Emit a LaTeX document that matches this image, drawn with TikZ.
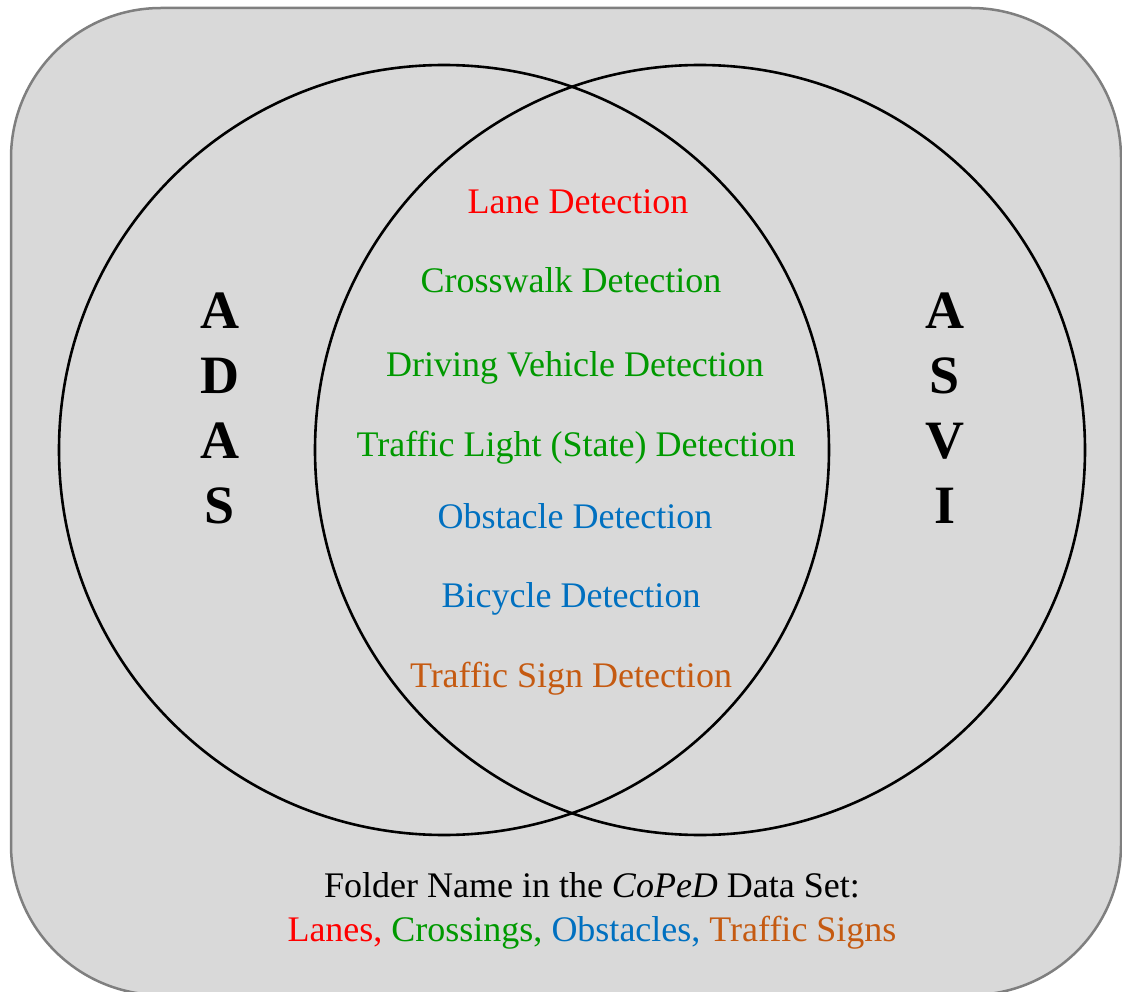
\documentclass[tikz,border=0pt]{standalone}
\usepackage{fontspec}
\setmainfont{Liberation Serif}
\definecolor{bgc}{HTML}{D9D9D9}
\definecolor{edgec}{HTML}{7F7F7F}
\definecolor{cred}{HTML}{FF0000}
\definecolor{cgreen}{HTML}{009900}
\definecolor{cblue}{HTML}{0070C0}
\definecolor{corange}{HTML}{C55A11}
\tikzset{
  item/.style={anchor=base, inner sep=0pt, font=\fontsize{36}{43}\selectfont},
  bigletters/.style={anchor=center, align=center, inner sep=0pt, font=\fontsize{54}{65}\selectfont\bfseries},
  ring/.style={draw=black, line width=2.6pt},
}
\begin{document}
\begin{tikzpicture}[x=1pt, y=-1pt]
\useasboundingbox (0,0) rectangle (1122,992);
\begin{scope}
\clip (0,0) rectangle (1122,992);
\draw[fill=bgc, draw=edgec, line width=2.5pt, rounded corners=150pt] (11,8) rectangle (1121,995);
\end{scope}
\draw[ring] (444,450) circle[radius=385];
\draw[ring] (700,450) circle[radius=385];
\node[bigletters] (adas) at (220,408) {A\\D\\A\\S};
\node[bigletters] (asvi) at (945,408) {A\\S\\V\\I};
\node[item, text=cred] (lane) at (578,214) {Lane Detection};
\node[item, text=cgreen] (cross) at (571,293) {Crosswalk Detection};
\node[item, text=cgreen] (drive) at (575,377) {Driving Vehicle Detection};
\node[item, text=cgreen] (light) at (576,456) {Traffic Light (State) Detection};
\node[item, text=cblue] (obst) at (575,528) {Obstacle Detection};
\node[item, text=cblue] (bike) at (571,607) {Bicycle Detection};
\node[item, text=corange] (sign) at (571,687) {Traffic Sign Detection};
\node[item] (folder) at (592,897) {Folder Name in the \textit{CoPeD} Data Set:};
\node[item] (names) at (592,941) {\textcolor{cred}{Lanes,} \textcolor{cgreen}{Crossings,} \textcolor{cblue}{Obstacles,} \textcolor{corange}{Traffic Signs}};
\end{tikzpicture}
\end{document}
